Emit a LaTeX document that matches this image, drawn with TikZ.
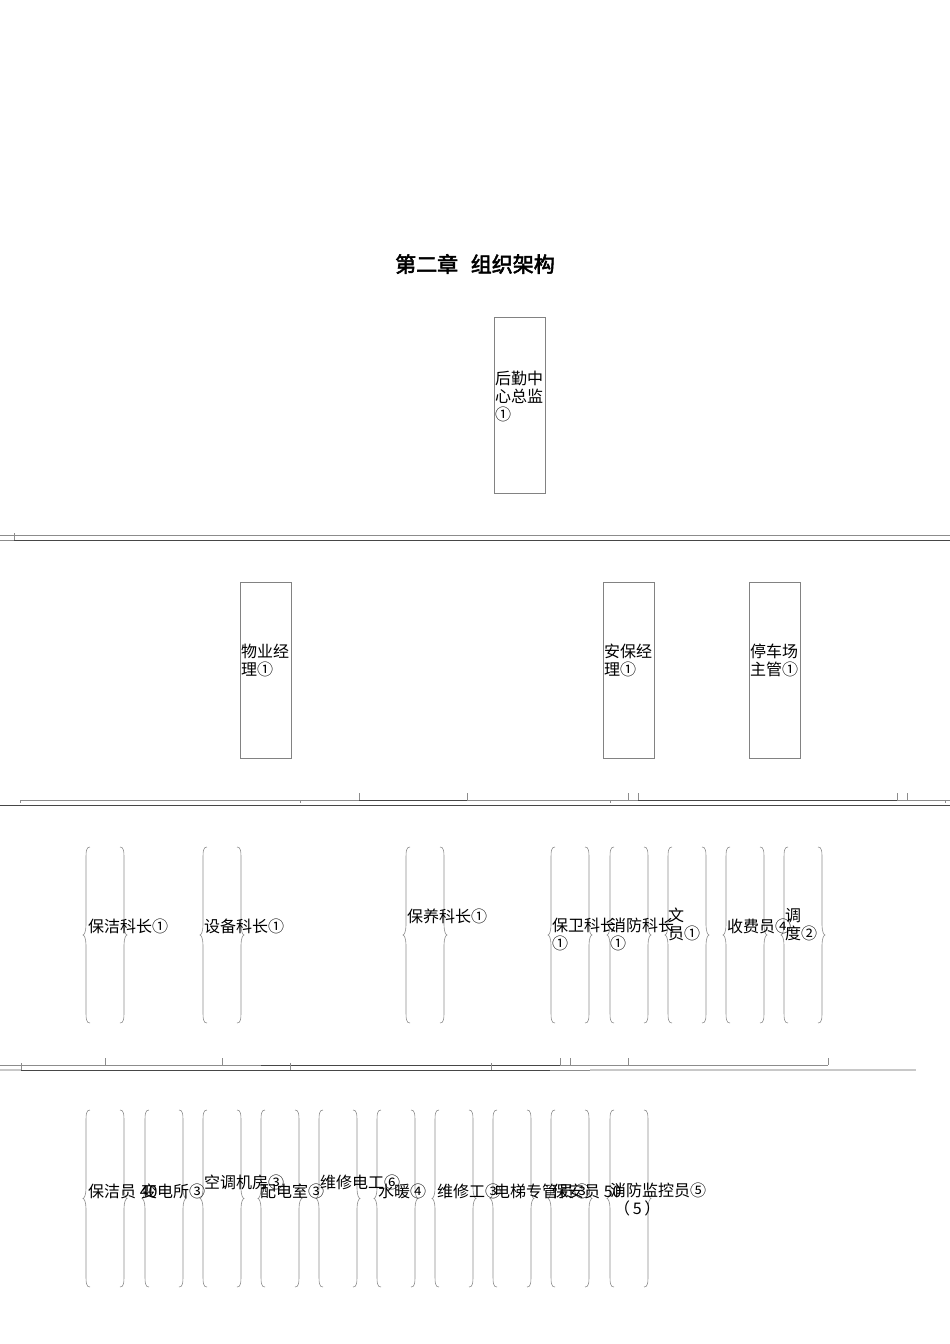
\documentclass[tikz,border=0pt]{standalone}
\usepackage{fontspec}
\setmainfont{Noto Sans CJK SC}
\newfontfamily\cjkbold{Noto Sans CJK SC}[FakeBold=2.5]
\definecolor{boxgray}{RGB}{130,130,130}
\definecolor{linegray}{RGB}{140,140,140}
\definecolor{linedark}{RGB}{70,70,70}
\definecolor{linelight}{RGB}{200,200,200}
\newcommand\bracepair[4]{%
  \node[bnode] (#1) at ({#2+22},{(#3+#4)/2}) {};
  \draw[bracestyle] ({#2+7},#3) .. controls ({#2+3},#3) and ({#2+3},{#3+4}) .. ({#2+3},{#3+14})
    -- ({#2+3},{(#3+#4)/2-10}) .. controls ({#2+3},{(#3+#4)/2-3}) and ({#2+1},{(#3+#4)/2}) .. ({#2},{(#3+#4)/2})
    .. controls ({#2+1},{(#3+#4)/2}) and ({#2+3},{(#3+#4)/2+3}) .. ({#2+3},{(#3+#4)/2+10})
    -- ({#2+3},{#4-14}) .. controls ({#2+3},{#4-4}) and ({#2+3},#4) .. ({#2+7},#4);
  \draw[bracestyle] ({#2+37},#3) .. controls ({#2+41},#3) and ({#2+41},{#3+4}) .. ({#2+41},{#3+14})
    -- ({#2+41},{(#3+#4)/2-10}) .. controls ({#2+41},{(#3+#4)/2-3}) and ({#2+43},{(#3+#4)/2}) .. ({#2+44},{(#3+#4)/2})
    .. controls ({#2+43},{(#3+#4)/2}) and ({#2+41},{(#3+#4)/2+3}) .. ({#2+41},{(#3+#4)/2+10})
    -- ({#2+41},{#4-14}) .. controls ({#2+41},{#4-4}) and ({#2+41},#4) .. ({#2+37},#4);
}
\begin{document}
\begin{tikzpicture}[x=1pt,y=-1pt,
  box/.style={draw=boxgray, line width=0.8pt, inner sep=0, minimum width=51, minimum height=176, anchor=north west},
  bnode/.style={inner sep=0, minimum width=44, minimum height=176},
  bracestyle/.style={draw=linegray, line width=0.6pt},
  lbl/.style={font=\fontsize{16}{18}\selectfont, inner sep=0, anchor=base west},
  mlbl/.style={font=\fontsize{16}{18}\selectfont, inner sep=0, anchor=north west, align=left},
  lg/.style={draw=linegray, line width=0.7pt},
  ld/.style={draw=linedark, line width=1pt},
  ll/.style={draw=linelight, line width=1.2pt}]
\useasboundingbox (0,0) rectangle (950,1344);
\fill[white] (0,0) rectangle (950,1344);

% title
\node[font=\cjkbold\fontsize{21}{24}\selectfont, inner sep=0] (title) at (475,264) {第二章\hspace{0.6em}组织架构};

% top box
\node[box] (zj) at (494,317) {};
\node[mlbl] (zjt) at (495,371) {后勤中\\心总监\\①};

% line set 1
\draw[lg] (0,535) -- (950,535);
\draw[lg] (0,540) -- (14,540);
\draw[ld] (14,540) -- (950,540);
\draw[lg] (14,533) -- (14,540);

% row 2 boxes
\node[box] (wy) at (240,582) {};
\node[mlbl] (wyt) at (241,644) {物业经\\理①};
\node[box] (ab) at (603,582) {};
\node[mlbl] (abt) at (604,644) {安保经\\理①};
\node[box] (tc) at (749,582) {};
\node[mlbl] (tct) at (750,644) {停车场\\主管①};

% line set 2
\draw[lg] (20,800) -- (950,800);
\draw[ld] (359,800) -- (467,800);
\draw[ld] (638,800) -- (897,800);
\foreach \xx in {20,300,610,945} \draw[lg] (\xx,800) -- (\xx,803);
\foreach \xx in {359,467,628,638,897,907} \draw[lg] (\xx,793) -- (\xx,800);
\draw[ld] (0,805) -- (950,805);

% row 3
\bracepair{bj}{83}{847}{1023}
\bracepair{sb}{200}{847}{1023}
\bracepair{by}{403}{847}{1023}
\bracepair{bw}{548}{847}{1023}
\bracepair{xf}{607}{847}{1023}
\bracepair{wy3}{665}{847}{1023}
\bracepair{sf}{723}{847}{1023}
\bracepair{dd}{781}{847}{1023}
\node[lbl] (bjt) at (88,932) {保洁科长①};
\node[lbl] (sbt) at (204,932) {设备科长①};
\node[lbl] (byt) at (407,922) {保养科长①};
\node[mlbl] (bwt) at (552,918) {保卫科长\\①};
\node[mlbl] (xft) at (610,918) {消防科长\\①};
\node[mlbl] (wyt3) at (668,908) {文\\员①};
\node[lbl] (sft) at (727,932) {收费员④};
\node[mlbl] (ddt) at (785,908) {调\\度②};

% line set 3
\draw[lg] (0,1065) -- (828,1065);
\draw[ld] (261,1065) -- (560,1065);
\foreach \xx in {105,222,560,570,628,828} \draw[lg] (\xx,1058) -- (\xx,1065);
\draw[ll] (0,1070) -- (21,1070);
\draw[ld] (21,1070) -- (550,1070);
\draw[lg] (550,1070) -- (590,1070);
\draw[ll] (590,1070) -- (916,1070);
\foreach \xx in {21,290,491} \draw[lg] (\xx,1063) -- (\xx,1070);

% row 4
\bracepair{bjy}{83}{1110}{1287}
\bracepair{bds}{142}{1110}{1287}
\bracepair{ktjf}{200}{1110}{1287}
\bracepair{pds}{258}{1110}{1287}
\bracepair{wxdg}{316}{1110}{1287}
\bracepair{sn}{374}{1110}{1287}
\bracepair{wxg}{432}{1110}{1287}
\bracepair{dtzg}{490}{1110}{1287}
\bracepair{bay}{548}{1110}{1287}
\bracepair{xfjk}{607}{1110}{1287}
\node[lbl] (bjyt) at (88,1197) {保洁员 40};
\node[lbl] (bdst) at (141,1197) {变电所③};
\node[lbl] (ktjft) at (204,1188) {空调机房③};
\node[lbl] (pdst) at (260,1197) {配电室③};
\node[lbl] (wxdgt) at (320,1188) {维修电工⑥};
\node[lbl] (snt) at (378,1197) {水暖④};
\node[lbl] (wxgt) at (437,1197) {维修工③};
\node[lbl] (dtzgt) at (494,1197) {电梯专管员③};
\node[lbl] (bayt) at (552,1197) {保安员 50};
\node[mlbl] (xfjkt) at (610,1183) {消防监控员⑤\\\hspace{4pt}（\,5\,）};
\end{tikzpicture}
\end{document}
